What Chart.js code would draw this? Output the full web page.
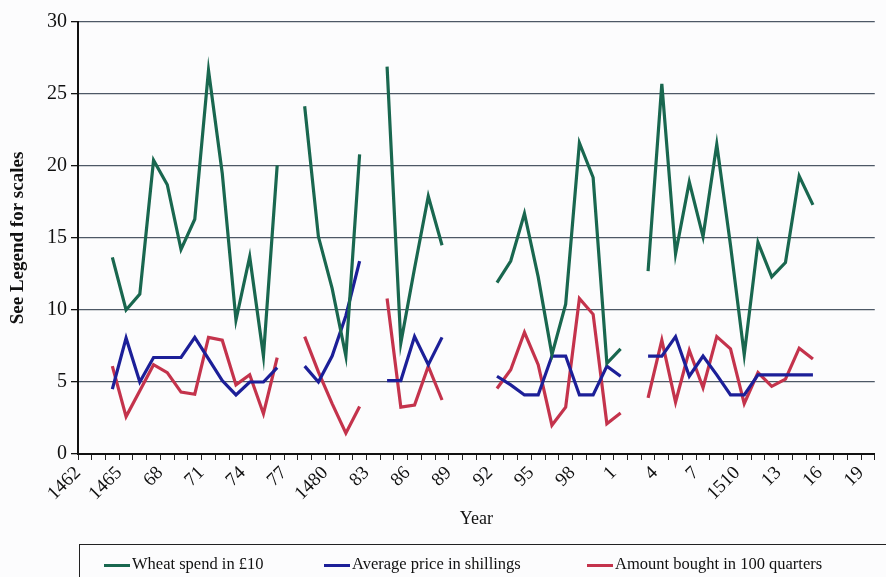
<!DOCTYPE html>
<html lang="en">
<head>
  <meta charset="UTF-8">
  <title>Wheat purchases 1462-1519</title>
  <style>
    html, body {
      margin: 0;
      padding: 0;
      background-color: #fcfcfd;
      overflow: hidden;
    }

    .chart-container {
      position: relative;
      width: 886px;
      height: 577px;
    }

    #legend {
      position: absolute;
      left: 79px;
      top: 544px;
      width: 840px;
      height: 36px;
      border: 1.5px solid #222;
      font-family: "Liberation Serif", "Times New Roman", serif;
      font-size: 16.5px;
      color: #111;
    }

    .legend-item {
      position: absolute;
      top: 9px;
      white-space: nowrap;
    }

    .legend-item .swatch {
      display: inline-block;
      width: 26px;
      height: 3px;
      vertical-align: middle;
      margin-right: 2px;
    }
  </style>
  <script src="https://cdn.jsdelivr.net/npm/chart.js"></script>
</head>
<body>
  <div class="chart-container">
    <canvas id="chart"></canvas>
    <div id="legend"></div>
  </div>

  <script>
    // one category per year, 1462 to 1519
    const years = [
      1462, 1463, 1464, 1465, 1466, 1467, 1468, 1469, 1470, 1471,
      1472, 1473, 1474, 1475, 1476, 1477, 1478, 1479, 1480, 1481,
      1482, 1483, 1484, 1485, 1486, 1487, 1488, 1489, 1490, 1491,
      1492, 1493, 1494, 1495, 1496, 1497, 1498, 1499, 1500, 1501,
      1502, 1503, 1504, 1505, 1506, 1507, 1508, 1509, 1510, 1511,
      1512, 1513, 1514, 1515, 1516, 1517, 1518, 1519
    ];

    // labels shown on every third year
    const tickLabels = ['1462', '1465', '68', '71', '74', '77', '1480', '83', '86', '89',
                        '92', '95', '98', '1', '4', '7', '1510', '13', '16', '19'];

    const wheatSpend = [
      null, null, 13.65, 10.0, 11.1, 20.4, 18.7, 14.2, 16.3, 26.65,
      19.5, 9.3, 13.7, 6.8, 20.05, null, 24.15, 15.1, 11.5, 6.8,
      20.8, null, 26.9, 7.7, 12.9, 17.9, 14.5, null, null, null,
      11.9, 13.4, 16.7, 12.3, 6.9, 10.4, 21.6, 19.2, 6.3, 7.3,
      null, 12.7, 25.7, 13.9, 18.9, 15.1, 21.5, 14.5, 6.9, 14.7,
      12.3, 13.3, 19.3, 17.3, null, null, null, null
    ];

    const avgPrice = [
      null, null, 4.5, 8.05, 5.0, 6.7, 6.7, 6.7, 8.1, 6.6,
      5.1, 4.1, 5.0, 5.0, 6.0, null, 6.1, 5.0, 6.8, 9.6,
      13.4, null, 5.1, 5.1, 8.15, 6.2, 8.1, null, null, null,
      5.4, 4.8, 4.1, 4.1, 6.8, 6.8, 4.1, 4.1, 6.1, 5.4,
      null, 6.8, 6.8, 8.15, 5.4, 6.8, 5.5, 4.1, 4.1, 5.5,
      5.5, 5.5, 5.5, 5.5, null, null, null, null
    ];

    const amountBought = [
      null, null, 6.1, 2.6, 4.4, 6.2, 5.65, 4.3, 4.15, 8.1,
      7.9, 4.8, 5.5, 2.8, 6.7, null, 8.15, 5.7, 3.5, 1.45,
      3.3, null, 10.8, 3.25, 3.4, 6.1, 3.75, null, null, null,
      4.55, 5.85, 8.45, 6.2, 2.0, 3.25, 10.8, 9.7, 2.1, 2.85,
      null, 3.9, 7.9, 3.6, 7.2, 4.6, 8.15, 7.3, 3.5, 5.65,
      4.7, 5.2, 7.35, 6.6, null, null, null, null
    ];

    const serif = '"Liberation Serif", "Times New Roman", serif';

    const ctx = document.getElementById('chart').getContext('2d');
    const chart = new Chart(ctx, {
      type: 'line',
      data: {
        labels: years,
        datasets: [
          { label: 'Wheat spend in £10', data: wheatSpend, borderColor: '#19674f' },
          { label: 'Average price in shillings', data: avgPrice, borderColor: '#1c1f98' },
          { label: 'Amount bought in 100 quarters', data: amountBought, borderColor: '#c4334c' }
        ]
      },
      options: {
        responsive: true,
        maintainAspectRatio: false,
        animation: false,
        spanGaps: false,
        layout: { padding: { top: 22, right: 0, bottom: 47, left: 0 } },
        elements: {
          line: { borderWidth: 3.2, tension: 0, fill: false },
          point: { radius: 0 }
        },
        plugins: {
          legend: { display: false },
          tooltip: { enabled: false }
        },
        scales: {
          x: {
            offset: true,
            afterFit: s => { s.height = 76; },
            border: { color: '#111', width: 2 },
            grid: { offset: true, drawOnChartArea: false, drawTicks: true, tickLength: 6, color: '#222' },
            ticks: {
              autoSkip: false,
              minRotation: 45,
              maxRotation: 45,
              padding: 2,
              labelOffset: -7,
              color: '#111',
              font: { family: serif, size: 19 },
              callback: (v, i) => (i % 3 === 0 ? tickLabels[i / 3] : '')
            },
            title: {
              display: true,
              text: 'Year',
              color: '#111',
              font: { family: serif, size: 18 },
              padding: { top: 0, bottom: 0 }
            }
          },
          y: {
            min: 0,
            max: 30,
            afterFit: s => { s.width = 78; },
            border: { color: '#111', width: 2 },
            grid: { color: '#4d5866', lineWidth: 1.3, tickLength: 7, tickColor: '#111' },
            ticks: {
              stepSize: 5,
              padding: 4,
              color: '#111',
              font: { family: serif, size: 20 }
            },
            title: {
              display: true,
              text: 'See Legend for scales',
              color: '#111',
              font: { family: serif, size: 19, weight: 'bold' },
              padding: { top: 7, bottom: 0 }
            }
          }
        }
      }
    });

    // legend box under the chart, built from the datasets
    const legendBox = document.getElementById('legend');
    const legendX = [24, 244, 507];
    chart.data.datasets.forEach((ds, i) => {
      const item = document.createElement('div');
      item.className = 'legend-item';
      item.style.left = legendX[i] + 'px';
      const swatch = document.createElement('span');
      swatch.className = 'swatch';
      swatch.style.backgroundColor = ds.borderColor;
      item.appendChild(swatch);
      item.appendChild(document.createTextNode(ds.label));
      legendBox.appendChild(item);
    });
  </script>
</body>
</html>
